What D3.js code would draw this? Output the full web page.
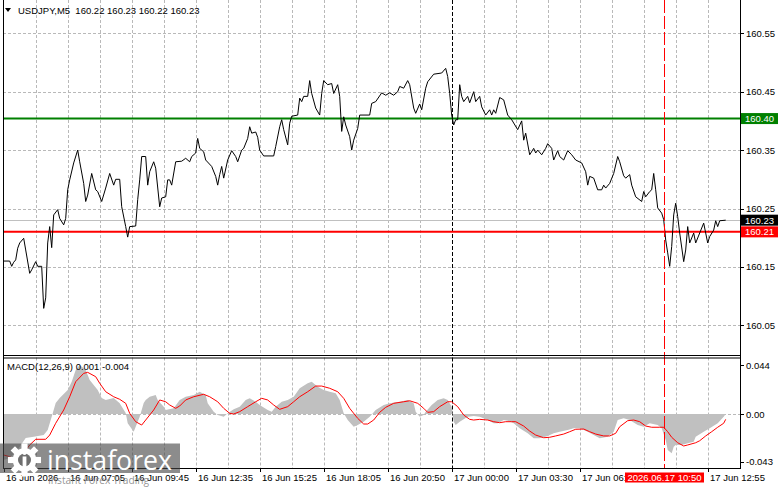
<!DOCTYPE html>
<html>
<head>
<meta charset="utf-8">
<script src="https://cdn.jsdelivr.net/npm/d3@7"></script>
<style>
  html, body { margin: 0; padding: 0; background: #fff; }
  svg { display: block; }
  text { font-family: "Liberation Sans", Arial, sans-serif; font-size: 9.5px; fill: #000; }
</style>
</head>
<body>
<svg id="chart" width="781" height="489"></svg>
<script>
/* USDJPY M5 — price pane + MACD pane, MT4 style */

// ---------- data ----------
const symbolTitle = 'USDJPY,M5  160.22 160.23 160.22 160.23';
const macdTitle = 'MACD(12,26,9) 0.001 -0.004';

// [bar index, close]
const priceSeries = [
  [0,160.160],[3,160.160],[4,160.151],[5,160.158],[6,160.162],[7,160.182],[8,160.191],[10,160.199],[11,160.179],[13,160.139],
  [14,160.145],[16,160.159],[17,160.151],[19,160.151],[20,160.079],[21,160.097],[22,160.191],[23,160.219],[24,160.183],[25,160.239],
  [27,160.248],[28,160.233],[30,160.222],[31,160.233],[32,160.282],[33,160.299],[35,160.328],[37,160.350],[38,160.330],[40,160.293],
  [41,160.262],[42,160.273],[44,160.310],[46,160.282],[47,160.279],[49,160.262],[51,160.285],[53,160.310],[55,160.290],[56,160.300],
  [58,160.300],[59,160.253],[61,160.219],[62,160.201],[63,160.219],[66,160.220],[67,160.265],[68,160.299],[69,160.339],[71,160.339],
  [72,160.290],[73,160.313],[75,160.330],[76,160.319],[78,160.253],[79,160.268],[81,160.270],[82,160.299],[83,160.299],[84,160.290],
  [86,160.330],[89,160.331],[91,160.336],[93,160.330],[94,160.339],[96,160.345],[97,160.370],[98,160.353],[100,160.347],[101,160.333],
  [104,160.322],[106,160.305],[107,160.290],[108,160.308],[109,160.322],[110,160.302],[112,160.333],[114,160.349],[116,160.339],[117,160.330],
  [119,160.350],[120,160.353],[122,160.370],[123,160.390],[124,160.379],[126,160.381],[127,160.372],[128,160.350],[130,160.340],[135,160.340],
  [136,160.356],[138,160.390],[139,160.402],[140,160.385],[142,160.359],[143,160.396],[144,160.408],[147,160.410],[148,160.439],[149,160.433],
  [150,160.442],[152,160.442],[153,160.469],[154,160.447],[156,160.422],[158,160.410],[159,160.447],[160,160.469],[162,160.462],[164,160.464],
  [165,160.447],[167,160.462],[168,160.442],[169,160.382],[170,160.407],[171,160.393],[173,160.373],[174,160.350],[175,160.367],[177,160.387],
  [178,160.410],[183,160.410],[184,160.430],[186,160.433],[189,160.448],[191,160.444],[193,160.448],[195,160.444],[197,160.450],[198,160.459],
  [200,160.456],[202,160.469],[203,160.462],[205,160.422],[206,160.413],[208,160.429],[209,160.419],[211,160.456],[212,160.467],[215,160.480],
  [219,160.482],[221,160.490],[222,160.476],[223,160.447],[224,160.410],[225,160.393],[226,160.402],[227,160.402],[228,160.462],[229,160.442],
  [230,160.433],[232,160.442],[233,160.431],[235,160.450],[236,160.433],[238,160.442],[239,160.424],[241,160.410],[243,160.419],[244,160.410],
  [245,160.419],[246,160.413],[248,160.440],[250,160.436],[252,160.410],[254,160.402],[257,160.385],[259,160.400],[260,160.367],[261,160.379],
  [263,160.342],[265,160.353],[266,160.345],[267,160.350],[269,160.342],[271,160.353],[272,160.361],[274,160.353],[275,160.333],[277,160.349],
  [278,160.339],[280,160.333],[282,160.349],[284,160.342],[286,160.333],[289,160.328],[291,160.313],[292,160.290],[293,160.305],[295,160.302],
  [297,160.282],[299,160.282],[300,160.290],[301,160.285],[303,160.293],[305,160.310],[307,160.339],[308,160.330],[310,160.306],[311,160.302],
  [313,160.308],[314,160.290],[316,160.270],[319,160.262],[320,160.279],[321,160.270],[323,160.279],[324,160.282],[325,160.310],[326,160.282],
  [327,160.251],[329,160.242],[330,160.231],[331,160.196],[332,160.174],[333,160.151],[334,160.185],[335,160.239],[336,160.259],[337,160.236],
  [338,160.208],[340,160.159],[341,160.179],[342,160.219],[343,160.191],[345,160.208],[346,160.191],[348,160.208],[350,160.225],[351,160.208],
  [352,160.191],[353,160.202],[355,160.213],[356,160.229],[357,160.219],[358,160.229],[361,160.230]
];

// [bar index, MACD main] (grey histogram)
const macdHist = [
  [0,-0.0413],[3,-0.0395],[6,-0.0341],[8,-0.0294],[11,-0.0215],[15,-0.0204],[20,-0.0189],[22,-0.0144],[24,-0.0024],[26,0.0099],
  [28,0.0144],[32,0.0215],[34,0.0290],[36,0.0395],[38,0.0440],[41,0.0395],[43,0.0305],[47,0.0215],[49,0.0144],[51,0.0126],
  [55,0.0144],[58,0.0096],[61,0.0009],[62,-0.0083],[65,-0.0159],[66,-0.0114],[68,-0.0024],[70,0.0099],[71,0.0126],[73,0.0155],
  [76,0.0171],[77,0.0126],[80,0.0066],[81,0.0036],[85,0.0051],[88,0.0126],[91,0.0155],[95,0.0171],[98,0.0200],[101,0.0171],
  [102,0.0096],[105,0.0021],[107,-0.0009],[110,-0.0024],[112,0.0006],[115,0.0042],[118,0.0066],[121,0.0126],[123,0.0141],[126,0.0110],
  [128,0.0081],[132,0.0036],[134,0.0021],[136,0.0066],[139,0.0110],[142,0.0126],[145,0.0155],[148,0.0231],[152,0.0276],[154,0.0290],
  [157,0.0245],[160,0.0215],[163,0.0200],[166,0.0186],[168,0.0126],[170,0.0006],[172,-0.0054],[175,-0.0114],[177,-0.0099],[180,-0.0069],
  [183,-0.0024],[186,0.0036],[190,0.0081],[193,0.0096],[198,0.0110],[202,0.0126],[205,0.0096],[206,0.0021],[208,-0.0024],[210,-0.0009],
  [211,0.0021],[214,0.0081],[217,0.0126],[220,0.0141],[222,0.0126],[224,0.0066],[225,-0.0069],[226,-0.0099],[228,-0.0069],[232,-0.0024],
  [235,-0.0018],[238,-0.0024],[242,-0.0054],[245,-0.0083],[247,-0.0083],[250,-0.0054],[252,-0.0060],[255,-0.0083],[258,-0.0128],[262,-0.0173],
  [265,-0.0218],[268,-0.0218],[272,-0.0197],[275,-0.0173],[278,-0.0159],[282,-0.0144],[285,-0.0128],[288,-0.0128],[292,-0.0159],[295,-0.0189],
  [298,-0.0218],[302,-0.0204],[305,-0.0159],[307,-0.0054],[310,-0.0039],[313,-0.0054],[317,-0.0099],[320,-0.0114],[323,-0.0083],[327,-0.0099],
  [329,-0.0128],[331,-0.0233],[332,-0.0323],[334,-0.0353],[335,-0.0294],[336,-0.0278],[339,-0.0278],[342,-0.0263],[345,-0.0249],[346,-0.0204],
  [350,-0.0159],[353,-0.0128],[357,-0.0083],[360,-0.0024],[361,0.0]
];

// [bar index, signal] (red line)
const macdSignal = [
  [0,-0.0368],[3,-0.0383],[6,-0.0413],[10,-0.0353],[13,-0.0278],[16,-0.0227],[21,-0.0227],[23,-0.0189],[26,-0.0083],[30,0.0036],
  [33,0.0155],[36,0.0290],[40,0.0365],[42,0.0374],[46,0.0335],[48,0.0276],[51,0.0200],[55,0.0155],[58,0.0132],[61,0.0096],
  [63,0.0006],[66,-0.0069],[69,-0.0099],[71,-0.0054],[75,0.0036],[78,0.0126],[81,0.0110],[83,0.0081],[86,0.0051],[88,0.0072],
  [91,0.0126],[95,0.0155],[100,0.0177],[103,0.0155],[107,0.0110],[110,0.0051],[113,0.0006],[115,0.0],[118,0.0021],[122,0.0066],
  [126,0.0110],[129,0.0141],[132,0.0126],[135,0.0081],[138,0.0042],[142,0.0066],[145,0.0110],[148,0.0155],[152,0.0200],[156,0.0251],
  [159,0.0251],[163,0.0231],[167,0.0200],[170,0.0141],[173,0.0051],[177,-0.0039],[180,-0.0090],[182,-0.0090],[185,-0.0054],[188,0.0015],
  [191,0.0060],[195,0.0096],[200,0.0110],[203,0.0119],[207,0.0096],[210,0.0051],[212,0.0015],[215,0.0021],[218,0.0066],[222,0.0110],
  [224,0.0110],[227,0.0066],[230,-0.0009],[233,-0.0048],[235,-0.0054],[238,-0.0048],[242,-0.0054],[245,-0.0069],[248,-0.0078],[251,-0.0069],
  [254,-0.0069],[256,-0.0069],[260,-0.0108],[263,-0.0153],[266,-0.0189],[270,-0.0213],[273,-0.0209],[276,-0.0197],[280,-0.0180],[283,-0.0159],
  [286,-0.0137],[290,-0.0135],[293,-0.0159],[296,-0.0180],[300,-0.0197],[303,-0.0197],[306,-0.0173],[308,-0.0114],[312,-0.0060],[315,-0.0054],
  [318,-0.0069],[321,-0.0108],[324,-0.0119],[328,-0.0119],[330,-0.0119],[332,-0.0159],[334,-0.0209],[337,-0.0258],[340,-0.0287],[342,-0.0278],
  [346,-0.0258],[348,-0.0240],[351,-0.0197],[354,-0.0159],[357,-0.0119],[360,-0.0083],[361,-0.0048]
];

const priceTicks = [160.05, 160.15, 160.25, 160.35, 160.45, 160.55];
const macdTicks = [0.044, 0, -0.043];
const macdTickLabels = ['0.044', '0.00', '-0.043'];
const timeLabelBars = [0, 32, 64, 96, 128, 160, 192, 224, 256, 288, 352];
const timeLabels = ['16 Jun 2026', '16 Jun 07:05', '16 Jun 09:45', '16 Jun 12:35', '16 Jun 15:25', '16 Jun 18:05',
                    '16 Jun 20:50', '17 Jun 00:00', '17 Jun 03:30', '17 Jun 06:40', '17 Jun 12:55'];
const daySeparatorBar = 224;
const cursorBar = 330;
const cursorLabel = '2026.06.17 10:50';
const levelValues = [160.404, 160.21];
const levelLabels = ['160.40', '160.21'];
const levelColors = ['#008000', '#ff0000'];
const bidValue = 160.23;
const bidLabel = '160.23';

// ---------- layout ----------
const L = 3, R = 740;
const main = { top: 0, bottom: 355 };
const sub = { top: 357.5, bottom: 468 };

const svg = d3.select('#chart');

const x = d3.scaleLinear().domain([0, 368]).range([3.7, 739.7]);
const y = d3.scaleLinear().domain([160.05, 160.55]).range([325.3, 33.3]);
const ym = d3.scaleLinear().domain([-0.043, 0.044]).range([461.9, 365]);
const px = v => Math.round(v) + 0.5;

const defs = svg.append('defs');
defs.append('clipPath').attr('id', 'clip-main').append('rect')
  .attr('x', L).attr('y', main.top).attr('width', R - L).attr('height', main.bottom - main.top);
defs.append('clipPath').attr('id', 'clip-sub').append('rect')
  .attr('x', L).attr('y', sub.top).attr('width', R - L).attr('height', sub.bottom - sub.top);

const gridColor = '#b9b9b9';

// ---------- grids ----------
const vBars = d3.range(16, 368, 16).filter(b => b !== daySeparatorBar);
[[main.top, main.bottom], [sub.top, sub.bottom]].forEach(([t, b]) => {
  svg.append('g').selectAll('line').data(vBars).join('line')
    .attr('x1', d => px(x(d))).attr('x2', d => px(x(d)))
    .attr('y1', t).attr('y2', b)
    .attr('stroke', gridColor).attr('stroke-dasharray', '3,2');
});
svg.append('g').selectAll('line').data(priceTicks).join('line')
  .attr('x1', L).attr('x2', R)
  .attr('y1', d => px(y(d))).attr('y2', d => px(y(d)))
  .attr('stroke', gridColor).attr('stroke-dasharray', '3,2');
svg.append('line')
  .attr('x1', L).attr('x2', R + 4)
  .attr('y1', px(ym(0))).attr('y2', px(ym(0)))
  .attr('stroke', gridColor).attr('stroke-dasharray', '3,2');

// day separator (both panes)
[[main.top, main.bottom], [sub.top, sub.bottom]].forEach(([t, b]) => {
  svg.append('line')
    .attr('x1', px(x(daySeparatorBar))).attr('x2', px(x(daySeparatorBar)))
    .attr('y1', t).attr('y2', b)
    .attr('stroke', '#000').attr('stroke-dasharray', '4,2');
});

// ---------- price pane ----------
const gMain = svg.append('g').attr('clip-path', 'url(#clip-main)');

// bid line
gMain.append('line')
  .attr('x1', L).attr('x2', R)
  .attr('y1', px(y(bidValue))).attr('y2', px(y(bidValue)))
  .attr('stroke', '#c0c0c0');

// support / resistance levels
levelValues.forEach((v, i) => {
  gMain.append('line')
    .attr('x1', L).attr('x2', R)
    .attr('y1', y(v)).attr('y2', y(v))
    .attr('stroke', levelColors[i]).attr('stroke-width', 2);
});

gMain.append('path')
  .datum(priceSeries)
  .attr('d', d3.line().x(d => x(d[0])).y(d => y(d[1])))
  .attr('fill', 'none').attr('stroke', '#000').attr('stroke-width', 1);

// ---------- MACD pane ----------
const gSub = svg.append('g').attr('clip-path', 'url(#clip-sub)');
gSub.append('path')
  .datum(macdHist)
  .attr('d', d3.area().x(d => x(d[0])).y0(ym(0)).y1(d => ym(d[1])))
  .attr('fill', '#c0c0c0');
gSub.append('path')
  .datum(macdSignal)
  .attr('d', d3.line().x(d => x(d[0])).y(d => ym(d[1])))
  .attr('fill', 'none').attr('stroke', '#ff0000').attr('stroke-width', 1);

// cursor line (red long dash)
svg.append('line')
  .attr('x1', px(x(cursorBar))).attr('x2', px(x(cursorBar)))
  .attr('y1', 0).attr('y2', sub.bottom)
  .attr('stroke', '#ff0000').attr('stroke-dasharray', '13,3');

// ---------- frames ----------
const frame = svg.append('g').attr('fill', 'none').attr('stroke', '#000');
frame.append('line').attr('x1', L + 0.5).attr('x2', L + 0.5).attr('y1', 0).attr('y2', sub.bottom + 0.5);
frame.append('line').attr('x1', R + 0.5).attr('x2', R + 0.5).attr('y1', 0).attr('y2', sub.bottom + 0.5);
[main.bottom, sub.top, sub.bottom].forEach(yy => {
  frame.append('line').attr('x1', L).attr('x2', R + 1).attr('y1', yy + 0.5).attr('y2', yy + 0.5);
});

// ---------- right axis ----------
const rAxis = svg.append('g');
rAxis.selectAll('line.pt').data(priceTicks).join('line').attr('class', 'pt')
  .attr('x1', R).attr('x2', R + 4)
  .attr('y1', d => px(y(d))).attr('y2', d => px(y(d)))
  .attr('stroke', '#000');
rAxis.selectAll('text.pt').data(priceTicks).join('text').attr('class', 'pt')
  .attr('x', R + 6).attr('y', d => y(d) + 3.5)
  .text(d => d.toFixed(2));

rAxis.selectAll('line.mt').data(macdTicks).join('line').attr('class', 'mt')
  .attr('x1', R).attr('x2', R + 4)
  .attr('y1', d => px(ym(d))).attr('y2', d => px(ym(d)))
  .attr('stroke', '#000');
rAxis.selectAll('text.mt').data(macdTicks).join('text').attr('class', 'mt')
  .attr('x', R + 6).attr('y', d => ym(d) + 3.5)
  .text((d, i) => macdTickLabels[i]);

// price tags on the axis
const tags = levelValues.map((v, i) => ({ v, label: levelLabels[i], color: levelColors[i] }))
  .concat([{ v: bidValue, label: bidLabel, color: '#000' }]);
tags.forEach(t => {
  const cy = y(t.v);
  rAxis.append('rect')
    .attr('x', R + 1).attr('y', cy - 5.5).attr('width', 37).attr('height', 11)
    .attr('fill', t.color);
  rAxis.append('text')
    .attr('x', R + 5).attr('y', cy + 3.5)
    .style('fill', '#fff').text(t.label);
});

// ---------- time axis ----------
const tAxis = svg.append('g');
tAxis.selectAll('line').data(timeLabelBars).join('line')
  .attr('x1', d => px(x(d))).attr('x2', d => px(x(d)))
  .attr('y1', sub.bottom).attr('y2', sub.bottom + 4)
  .attr('stroke', '#000');
tAxis.selectAll('text').data(timeLabelBars).join('text')
  .attr('x', d => Math.round(x(d)) + 2).attr('y', 481)
  .text((d, i) => timeLabels[i]);

// cursor time tag
const cx = px(x(cursorBar));
svg.append('rect').attr('x', cx - 39.5).attr('y', 472.5).attr('width', 79).attr('height', 10)
  .attr('fill', '#ff0000');
svg.append('text').attr('x', cx).attr('y', 481).attr('text-anchor', 'middle')
  .style('fill', '#fff').text(cursorLabel);

// ---------- titles ----------
svg.append('path').attr('d', 'M5,8 L11,8 L8,12 Z').attr('fill', '#000');
svg.append('text').attr('x', 18).attr('y', 14).attr('xml:space', 'preserve')
  .style('white-space', 'pre').text(symbolTitle);
svg.append('text').attr('x', 7).attr('y', 369.5).text(macdTitle);

// ---------- watermark ----------
const wm = svg.append('g');
wm.append('rect').attr('x', 0).attr('y', 443.5).attr('width', 180).attr('height', 29.5)
  .attr('fill', 'rgba(70,70,70,0.62)');
const gear = wm.append('g').attr('transform', 'translate(24.5,460) scale(1.18)');
d3.range(8).forEach(k => {
  gear.append('rect').attr('x', -2.6).attr('y', -14).attr('width', 5.2).attr('height', 6)
    .attr('fill', '#fff').attr('transform', `rotate(${k * 45})`);
});
gear.append('circle').attr('r', 10).attr('fill', '#fff');
gear.append('circle').attr('r', 5.5).attr('fill', 'rgb(110,110,110)');
gear.append('rect').attr('x', -1.6).attr('y', -3).attr('width', 3.2).attr('height', 14).attr('fill', '#fff');
gear.append('circle').attr('cy', -6).attr('r', 1.8).attr('fill', '#fff');
wm.append('text').attr('x', 47).attr('y', 470)
  .attr('textLength', 125).attr('lengthAdjust', 'spacingAndGlyphs')
  .style('font-family', '"Open Sans", "DejaVu Sans", sans-serif')
  .style('font-size', '28px').style('fill', '#fff').text('instaforex');
wm.append('text').attr('x', 48).attr('y', 484)
  .attr('textLength', 101).attr('lengthAdjust', 'spacingAndGlyphs')
  .style('font-family', '"Open Sans", "DejaVu Sans", sans-serif')
  .style('font-size', '11px').style('fill', 'rgba(135,135,135,0.9)').text('Instant Forex Trading');
</script>
</body>
</html>
